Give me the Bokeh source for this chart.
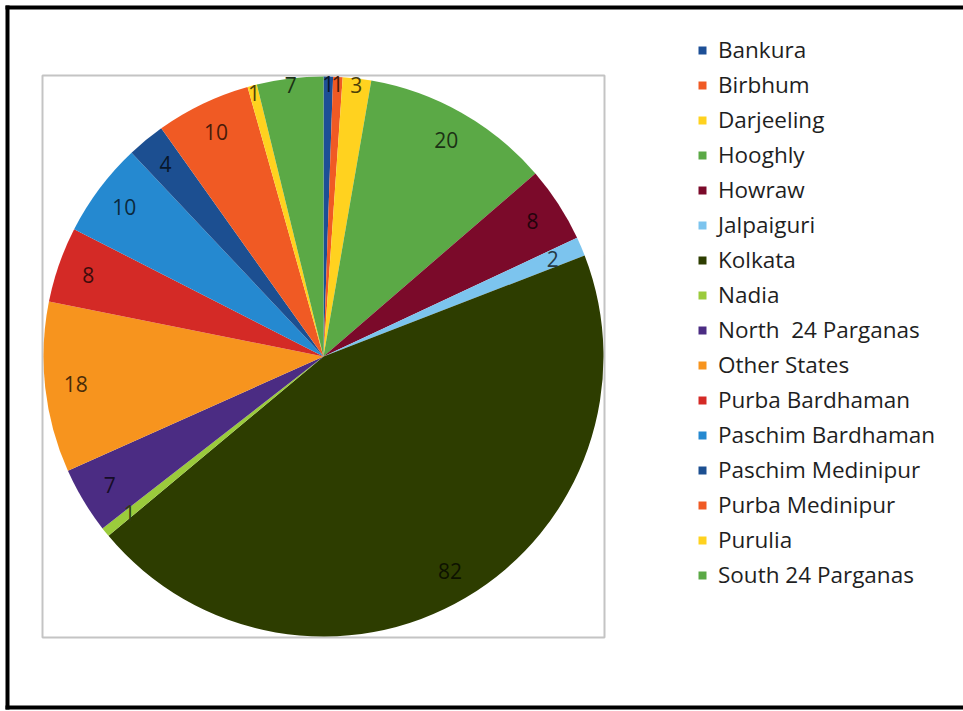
import math
from bokeh.plotting import figure
from bokeh.models import Range1d, ColumnDataSource, Legend, LegendItem
from bokeh.core.properties import value
from bokeh.embed import file_html
from bokeh.resources import INLINE

# ---- data ----
districts = ["Bankura", "Birbhum", "Darjeeling", "Hooghly", "Howraw", "Jalpaiguri",
             "Kolkata", "Nadia", "North  24 Parganas", "Other States", "Purba Bardhaman",
             "Paschim Bardhaman", "Paschim Medinipur", "Purba Medinipur", "Purulia",
             "South 24 Parganas"]
counts = [1, 1, 3, 20, 8, 2, 82, 1, 7, 18, 8, 10, 4, 10, 1, 7]
colors = ["#1D4F96", "#F05A24", "#FFD21F", "#5BA946", "#7B0A2A", "#7CC4EE",
          "#2D3D00", "#9BCB3C", "#4B2C83", "#F7941E", "#D42A26", "#2589D0",
          "#1C4F91", "#F05A24", "#FFD21F", "#5BA946"]

W, H = 963, 711
FONT = "Open Sans"

p = figure(width=W, height=H, output_backend="svg", toolbar_location=None,
           x_range=Range1d(0, W), y_range=Range1d(0, H), min_border=0)
p.axis.visible = False
p.grid.visible = False
p.outline_line_color = None
p.background_fill_color = "white"
p.border_fill_color = "white"

# outer black frame (left, top, bottom) and plot-area box
p.quad(left=[5, 5, 5], right=[9, W, W], top=[H - 5, H - 5, H - 705],
       bottom=[H - 709, H - 9, H - 709], fill_color="black", line_color=None)
cx, cy, R = 323, H - 356, 280
p.quad(left=[cx - R - 1], right=[cx + R + 1], top=[cy + R + 1], bottom=[cy - R - 1],
       fill_color=None, line_color="#C4C4C4", line_width=2)

total = sum(counts)
starts, ends, lx, ly, lcol = [], [], [], [], []
cum = 0
for c, col in zip(counts, colors):
    a0 = math.pi / 2 - 2 * math.pi * cum / total
    a1 = math.pi / 2 - 2 * math.pi * (cum + c) / total
    starts.append(a1)
    ends.append(a0)
    mid_frac = (cum + c / 2) / total
    deg = mid_frac * 360
    off = min(deg, 360 - deg)
    rl = R * (0.975 if off < 16 else 0.89)
    am = math.pi / 2 - 2 * math.pi * mid_frac
    lx.append(cx + rl * math.cos(am))
    ly.append(cy + rl * math.sin(am))
    r_, g_, b_ = int(col[1:3], 16), int(col[3:5], 16), int(col[5:7], 16)
    f = 0.3
    lcol.append("#%02x%02x%02x" % (int(r_ * f), int(g_ * f), int(b_ * f)))
    cum += c

src = ColumnDataSource(dict(name=districts, count=counts, color=colors,
                            start=starts, end=ends, lx=lx, ly=ly, lcol=lcol,
                            txt=[str(c) for c in counts]))

renderers = []
for i in range(len(districts)):
    r = p.wedge(x=cx, y=cy, radius=R, radius_units="screen",
                start_angle=starts[i], end_angle=ends[i],
                fill_color=colors[i], line_color=None)
    renderers.append(r)

p.text(x="lx", y="ly", text="txt", source=src, text_color="lcol",
       text_font=value(FONT), text_font_size="21px",
       text_align="center", text_baseline="middle")

legend = Legend(items=[LegendItem(label=districts[i], renderers=[renderers[i]])
                       for i in range(len(districts))],
                location=(697, 119), orientation="vertical",
                glyph_width=10, glyph_height=10, label_height=35,
                label_standoff=11, spacing=0, padding=0, margin=0,
                border_line_color=None, background_fill_alpha=0,
                label_text_font=FONT, label_text_font_size="22.5px",
                label_text_color="#1F1F1F")
p.add_layout(legend, "center")

open("out.html", "w").write(file_html(p, INLINE))
